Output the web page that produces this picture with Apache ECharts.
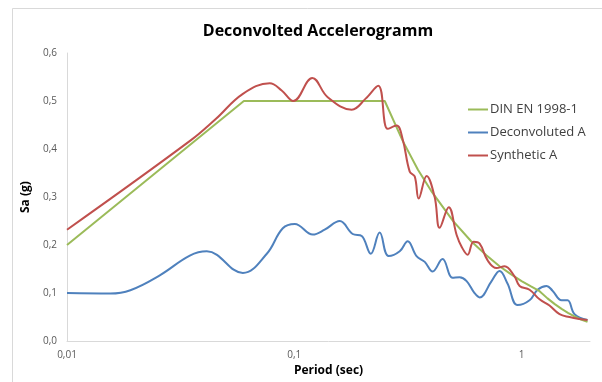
<!DOCTYPE html>
<html>
<head>
<meta charset="utf-8">
<script src="https://cdn.jsdelivr.net/npm/echarts@6/dist/echarts.min.js"></script>
<style>
html,body{margin:0;padding:0;background:#fff;}
#c{width:602px;height:382px;}
</style>
</head>
<body>
<div id="c"></div>
<script>
// Data
var seriesNames = ['DIN EN 1998-1', 'Deconvoluted A', 'Synthetic A'];
var yTicks = [0, 0.1, 0.2, 0.3, 0.4, 0.5, 0.6];

var dinPeriods = [0.01, 0.06, 0.25, 0.3, 0.35, 0.4, 0.5, 0.6, 0.7, 0.8, 0.9, 1.0, 1.1, 1.2, 1.3, 1.4, 1.5, 1.6, 1.7, 1.8, 1.95];
var dinValues  = [0.2, 0.5, 0.5, 0.417, 0.357, 0.313, 0.25, 0.208, 0.179, 0.156, 0.139, 0.125, 0.114, 0.104, 0.089, 0.077, 0.067, 0.059, 0.052, 0.046, 0.040];

var decPeriods = [0.01, 0.0155, 0.019, 0.0256, 0.0347, 0.0412, 0.0594, 0.0757, 0.089, 0.1005, 0.1206, 0.136, 0.1585, 0.1807, 0.198, 0.217, 0.2375, 0.26, 0.291, 0.3155, 0.345, 0.375, 0.406, 0.449, 0.497, 0.534, 0.573, 0.621, 0.654, 0.738, 0.80, 0.867, 0.96, 1.084, 1.176, 1.288, 1.368, 1.5, 1.593, 1.71, 1.95];
var decValues  = [0.100, 0.099, 0.106, 0.137, 0.178, 0.187, 0.142, 0.182, 0.235, 0.244, 0.222, 0.232, 0.250, 0.223, 0.219, 0.182, 0.226, 0.177, 0.187, 0.208, 0.177, 0.165, 0.145, 0.171, 0.132, 0.133, 0.125, 0.100, 0.091, 0.125, 0.146, 0.120, 0.075, 0.085, 0.107, 0.115, 0.105, 0.085, 0.085, 0.056, 0.044];

var synPeriods = [0.01, 0.035, 0.045, 0.0594, 0.078, 0.088, 0.099, 0.12, 0.1403, 0.179, 0.206, 0.234, 0.2576, 0.282, 0.300, 0.322, 0.3387, 0.3526, 0.382, 0.4146, 0.436, 0.478, 0.518, 0.544, 0.579, 0.615, 0.654, 0.709, 0.776, 0.842, 0.931, 0.98, 1.084, 1.2, 1.327, 1.469, 1.625, 1.80, 1.95];
var synValues  = [0.232, 0.418, 0.462, 0.515, 0.537, 0.522, 0.500, 0.548, 0.508, 0.482, 0.505, 0.532, 0.442, 0.449, 0.420, 0.353, 0.343, 0.297, 0.344, 0.300, 0.236, 0.279, 0.221, 0.197, 0.180, 0.207, 0.203, 0.168, 0.152, 0.156, 0.135, 0.115, 0.107, 0.087, 0.074, 0.056, 0.050, 0.046, 0.044];

function pairs(xs, ys) { return xs.map(function (x, i) { return [x, ys[i]]; }); }

var colors = ['#9BBB59', '#4F81BD', '#C0504D'];
var font = 'Open Sans';

var chart = echarts.init(document.getElementById('c'), null, {renderer: 'canvas'});
chart.setOption({
  backgroundColor: '#ffffff',
  animation: false,
  color: colors,
  graphic: [{
    type: 'rect', silent: true,
    shape: {x: 12.5, y: 8.5, width: 620, height: 400},
    style: {fill: 'none', stroke: '#D9D9D9', lineWidth: 1}
  }],
  title: {
    text: 'Deconvolted Accelerogramm',
    left: 313, top: 18, textAlign: 'center',
    textStyle: {fontFamily: font, fontWeight: 'bold', fontSize: 16, color: '#000'}
  },
  legend: {
    orient: 'vertical',
    left: 463, top: 98,
    itemWidth: 20, itemHeight: 2, itemGap: 10,
    icon: 'rect',
    data: seriesNames,
    textStyle: {fontFamily: font, fontSize: 13, color: '#404040', padding: [0, 0, 0, -3]}
  },
  grid: {left: 67, right: 12, top: 53, bottom: 32, containLabel: false},
  xAxis: {
    type: 'log', logBase: 10, min: 0.01, max: 2,
    name: 'Period (sec)', nameLocation: 'middle', nameGap: 18,
    nameTextStyle: {fontFamily: font, fontWeight: 'bold', fontSize: 12, color: '#000'},
    axisLine: {show: true, lineStyle: {color: '#D9D9D9', width: 1}},
    axisTick: {show: false},
    splitLine: {show: false},
    minorTick: {show: false},
    axisLabel: {
      fontFamily: font, fontSize: 10, color: '#595959', margin: 9,
      showMaxLabel: false,
      formatter: function (v) {
        var l = Math.log10(v);
        if (Math.abs(l - Math.round(l)) > 1e-6) return '';
        return String(v).replace('.', ',');
      }
    }
  },
  yAxis: {
    type: 'value', min: 0, max: 0.6, interval: 0.1,
    name: 'Sa (g)', nameLocation: 'middle', nameGap: 30, nameRotate: 90,
    nameTextStyle: {fontFamily: font, fontWeight: 'bold', fontSize: 12, color: '#000'},
    axisLine: {show: true, lineStyle: {color: '#D9D9D9', width: 1}},
    axisTick: {show: false},
    splitLine: {show: false},
    axisLabel: {
      fontFamily: font, fontSize: 10, color: '#595959', margin: 10,
      formatter: function (v) { return v.toFixed(1).replace('.', ','); }
    }
  },
  series: [
    {name: seriesNames[0], type: 'line', data: pairs(dinPeriods, dinValues), symbol: 'none', smooth: false,
     lineStyle: {width: 2, color: colors[0]}, z: 3},
    {name: seriesNames[1], type: 'line', data: pairs(decPeriods, decValues), symbol: 'none', smooth: 0.4,
     lineStyle: {width: 2, color: colors[1]}, z: 2},
    {name: seriesNames[2], type: 'line', data: pairs(synPeriods, synValues), symbol: 'none', smooth: 0.4,
     lineStyle: {width: 2, color: colors[2]}, z: 4}
  ]
});
</script>
</body>
</html>
